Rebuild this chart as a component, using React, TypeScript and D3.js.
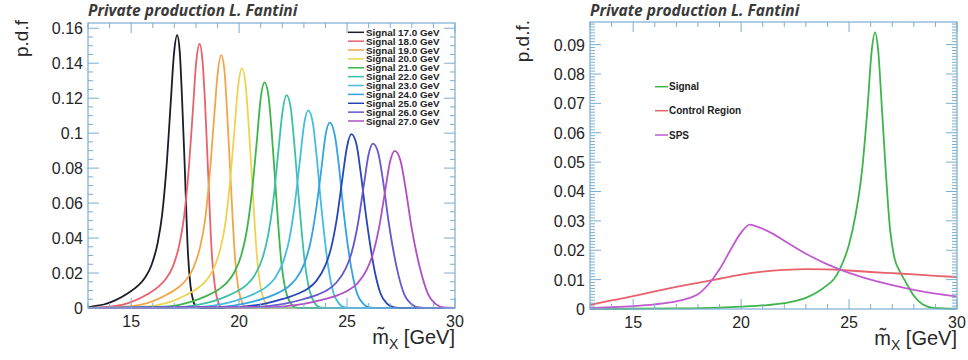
import React from 'react';
import * as d3 from 'd3';

type Pt = [number, number];

// ---------- Left panel data: signal templates (m, pdf) ----------
const signalMasses = [17, 18, 19, 20, 21, 22, 23, 24, 25, 26, 27];
const signalColors = ['#1c1c28', '#e8616b', '#f0a64a', '#ecd352', '#3db54b', '#3cc0a8', '#44bde0', '#33a3e2', '#2646b8', '#6457cf', '#b04fc4'];

const sig17: Pt[] = [[13,0.0003],[13.23,0.0009],[13.73,0.002],[14.23,0.0042],[14.83,0.0083],[15.33,0.0129],[15.63,0.0172],[15.93,0.0242],[16.23,0.0374],[16.43,0.053],[16.63,0.0796],[16.83,0.117],[16.98,0.1451],[17.13,0.156],[17.25,0.1466],[17.35,0.1217],[17.48,0.0811],[17.63,0.0312],[17.75,0.0125],[17.88,0.0039],[18.03,0.0005],[18.3,0],[30,0]];
const sig18: Pt[] = [[13,0],[14.09,0.0009],[14.62,0.002],[15.14,0.0041],[15.77,0.008],[16.29,0.0125],[16.6,0.0166],[16.92,0.0234],[17.23,0.0362],[17.44,0.0513],[17.65,0.077],[17.86,0.1133],[18.01,0.1404],[18.17,0.151],[18.3,0.1419],[18.42,0.1178],[18.56,0.0785],[18.74,0.0302],[18.88,0.0121],[19.02,0.0038],[19.19,0.0005],[19.5,0],[30,0]];
const sig19: Pt[] = [[13,0],[14.92,0.0009],[15.46,0.0019],[16.01,0.0039],[16.66,0.0077],[17.21,0.012],[17.53,0.0159],[17.86,0.0224],[18.19,0.0347],[18.41,0.0492],[18.62,0.0737],[18.84,0.1085],[19.01,0.1345],[19.17,0.1446],[19.32,0.1359],[19.44,0.1128],[19.6,0.0752],[19.81,0.0289],[19.96,0.0116],[20.13,0.0036],[20.32,0.0004],[20.6,0],[30,0]];
const sig20: Pt[] = [[13,0],[15.7,0.0008],[16.27,0.0018],[16.84,0.0037],[17.52,0.0073],[18.09,0.0114],[18.43,0.0151],[18.77,0.0212],[19.11,0.0329],[19.34,0.0466],[19.56,0.0699],[19.79,0.1028],[19.96,0.1274],[20.13,0.137],[20.29,0.1288],[20.43,0.1069],[20.61,0.0712],[20.84,0.0274],[21.01,0.011],[21.2,0.0034],[21.41,0.0004],[21.7,0],[30,0]];
const sig21: Pt[] = [[13,0],[16.58,0.0008],[17.17,0.0017],[17.76,0.0035],[18.47,0.0068],[19.06,0.0107],[19.41,0.0142],[19.76,0.02],[20.12,0.031],[20.35,0.0439],[20.59,0.0658],[20.83,0.0968],[21.0,0.12],[21.18,0.129],[21.36,0.1213],[21.51,0.1006],[21.7,0.0671],[21.96,0.0258],[22.15,0.0103],[22.36,0.0032],[22.59,0.0004],[22.9,0],[30,0]];
const sig22: Pt[] = [[13,0],[17.42,0.0007],[18.03,0.0016],[18.65,0.0033],[19.38,0.0065],[19.99,0.0101],[20.36,0.0134],[20.73,0.0189],[21.1,0.0292],[21.34,0.0414],[21.59,0.0621],[21.83,0.0913],[22.02,0.1132],[22.2,0.1217],[22.39,0.1144],[22.55,0.0949],[22.76,0.0633],[23.06,0.0243],[23.27,0.0097],[23.49,0.003],[23.75,0.0004],[24.1,0],[30,0]];
const sig23: Pt[] = [[13,0],[18.25,0.0007],[18.88,0.0015],[19.52,0.0031],[20.28,0.006],[20.91,0.0094],[21.29,0.0124],[21.68,0.0175],[22.06,0.0271],[22.31,0.0384],[22.56,0.0576],[22.82,0.0848],[23.01,0.1051],[23.2,0.113],[23.41,0.1062],[23.58,0.0881],[23.8,0.0588],[24.14,0.0226],[24.36,0.009],[24.61,0.0028],[24.89,0.0003],[25.2,0],[30,0]];
const sig24: Pt[] = [[13,0],[19.07,0.0006],[19.73,0.0014],[20.39,0.0029],[21.18,0.0056],[21.83,0.0088],[22.23,0.0117],[22.62,0.0164],[23.02,0.0254],[23.28,0.036],[23.54,0.0541],[23.81,0.0795],[24.0,0.0986],[24.2,0.106],[24.42,0.0996],[24.61,0.0827],[24.84,0.0551],[25.22,0.0212],[25.46,0.0085],[25.73,0.0027],[26.03,0.0003],[26.4,0],[30,0]];
const sig25: Pt[] = [[13,0],[19.9,0.0006],[20.58,0.0013],[21.26,0.0027],[22.07,0.0053],[22.75,0.0083],[23.16,0.0109],[23.57,0.0154],[23.98,0.0239],[24.25,0.0338],[24.52,0.0507],[24.79,0.0746],[25.0,0.0924],[25.2,0.0994],[25.44,0.0934],[25.63,0.0775],[25.89,0.0517],[26.3,0.0199],[26.56,0.008],[26.85,0.0025],[27.18,0.0003],[27.6,0],[30,0]];
const sig26: Pt[] = [[13,0],[20.72,0.0006],[21.42,0.0012],[22.13,0.0025],[22.97,0.005],[23.67,0.0078],[24.09,0.0103],[24.51,0.0146],[24.94,0.0226],[25.22,0.032],[25.5,0.0479],[25.78,0.0705],[25.99,0.0874],[26.2,0.094],[26.45,0.0884],[26.66,0.0733],[26.93,0.0489],[27.38,0.0188],[27.66,0.0075],[27.97,0.0024],[28.33,0.0003],[28.8,0],[30,0]];
const sig27: Pt[] = [[13,0],[21.55,0.0005],[22.28,0.0012],[23.0,0.0024],[23.87,0.0048],[24.6,0.0075],[25.03,0.0099],[25.47,0.0139],[25.9,0.0216],[26.19,0.0306],[26.48,0.0458],[26.77,0.0674],[26.99,0.0836],[27.21,0.0899],[27.47,0.0845],[27.69,0.0701],[27.98,0.0467],[28.48,0.018],[28.78,0.0072],[29.11,0.0022],[29.49,0.0003],[30,0]];
const signalCurves = [sig17, sig18, sig19, sig20, sig21, sig22, sig23, sig24, sig25, sig26, sig27];

// ---------- Right panel data ----------
const rightNames = ['Signal', 'Control Region', 'SPS'];
const rightColors = ['#3db54b', '#e8616b', '#c25ad0'];
const rightSignal: Pt[] = [[13,0],[17,0.0002],[19,0.0005],[20,0.0008],[21,0.0012],[22,0.002],[23,0.0038],[23.5,0.0056],[24,0.0082],[24.3,0.0102],[24.6,0.014],[25,0.022],[25.3,0.032],[25.6,0.047],[25.85,0.068],[26.05,0.088],[26.2,0.0942],[26.35,0.088],[26.5,0.071],[26.7,0.047],[26.9,0.027],[27.1,0.0175],[27.35,0.0128],[27.6,0.0095],[28.0,0.0045],[28.4,0.0016],[28.9,0.0004],[30,0.0001]];
const controlRegion: Pt[] = [[13,0.0014],[14,0.0029],[15,0.0044],[16,0.006],[17,0.0075],[18,0.0089],[19,0.0103],[20,0.0117],[21,0.0127],[22,0.0133],[23,0.0136],[24,0.0135],[25,0.0131],[26,0.0126],[27,0.0122],[28,0.0118],[29,0.0113],[30,0.0109]];
const sps: Pt[] = [[13,0.0003],[14,0.0006],[15,0.001],[16,0.0016],[17,0.0026],[17.5,0.0035],[18,0.005],[18.5,0.0085],[19,0.0135],[19.5,0.02],[20,0.026],[20.4,0.0287],[20.8,0.0279],[21.5,0.0255],[22,0.0232],[23,0.0188],[24,0.0152],[25,0.0123],[26,0.01],[27,0.0081],[28,0.0065],[29,0.0052],[30,0.0042]];
const rightCurves = [rightSignal, controlRegion, sps];

// ---------- Axes ----------
const xDomain: [number, number] = [13, 30];
const xTickLabels = [15, 20, 25, 30];
const leftYTicks = [0, 0.02, 0.04, 0.06, 0.08, 0.1, 0.12, 0.14, 0.16];
const rightYTicks = [0, 0.01, 0.02, 0.03, 0.04, 0.05, 0.06, 0.07, 0.08, 0.09];
const titleText = 'Private production L. Fantini';

const AXIS = '#7aaed2';
const TXT = '#262626';
const FONT = '"Liberation Sans", Arial, sans-serif';

interface PanelProps {
  x0: number; x1: number; y0: number; y1: number;
  yMax: number; yTicks: number[]; yMinorStep: number;
  yTitle: string; yTitleX: number; yTitleTop: number;
  curves: Pt[][]; colors: string[];
  children?: React.ReactNode;
  gapTitle: boolean;
}

function Panel(p: PanelProps) {
  const x = d3.scaleLinear().domain(xDomain).range([p.x0, p.x1]);
  const y = d3.scaleLinear().domain([0, p.yMax]).range([p.y1, p.y0]);
  const line = d3.line<Pt>().x(d => x(d[0])).y(d => y(d[1])).curve(d3.curveMonotoneX);
  const xMinor = d3.range(13, 30.0001, 1);
  const yMinor = d3.range(0, p.yMax + 1e-9, p.yMinorStep);
  const fmt = (v: number) => String(+v.toFixed(3));
  return (
    <g>
      <text x={p.x0} y={16} fontFamily='"Open Sans", sans-serif' fontStyle="italic" fontWeight={700} fontSize={15.5} fill="#3a3a3a">{titleText}</text>
      <g>
        {p.curves.map((c, i) => (
          <path key={i} d={line(c) || ''} fill="none" stroke={p.colors[i]} strokeWidth={1.8} strokeLinejoin="round" />
        ))}
      </g>
      <rect x={p.x0} y={p.y0} width={p.x1 - p.x0} height={p.y1 - p.y0} fill="none" stroke={AXIS} strokeWidth={1.2} />
      {xMinor.map((v, i) => {
        const major = Math.abs(v % 5) < 1e-6;
        const len = major ? 10 : 5;
        return (
          <g key={'x' + i}>
            <line x1={x(v)} x2={x(v)} y1={p.y1} y2={p.y1 - len} stroke={AXIS} strokeWidth={1} />
            <line x1={x(v)} x2={x(v)} y1={p.y0} y2={p.y0 + len} stroke={AXIS} strokeWidth={1} />
          </g>
        );
      })}
      {yMinor.map((v, i) => {
        const major = p.yTicks.some(t => Math.abs(t - v) < 1e-7);
        const len = major ? 11 : 5;
        return (
          <g key={'y' + i}>
            <line x1={p.x0} x2={p.x0 + len} y1={y(v)} y2={y(v)} stroke={AXIS} strokeWidth={1} />
            <line x1={p.x1} x2={p.x1 - len} y1={y(v)} y2={y(v)} stroke={AXIS} strokeWidth={1} />
          </g>
        );
      })}
      {xTickLabels.map(v => (
        <text key={'xl' + v} x={x(v)} y={p.y1 + 19} textAnchor="middle" fontFamily={FONT} fontSize={16} fill={TXT}>{v}</text>
      ))}
      {p.yTicks.map(v => (
        <text key={'yl' + v} x={p.x0 - 5} y={y(v) + 6} textAnchor="end" fontFamily={FONT} fontSize={16} fill={TXT}>{fmt(v)}</text>
      ))}
      <text transform={`translate(${p.yTitleX},${p.yTitleTop}) rotate(-90)`} textAnchor="end" fontFamily={FONT} fontSize={19} fill={TXT}>{p.yTitle}</text>
      <text x={p.x1} y={p.y1 + 36} textAnchor="end" fontFamily={FONT} fontSize={20} fill={TXT}>
        {'m\u0303'}<tspan fontSize={14} dy={5}>X</tspan><tspan dy={-5}>{p.gapTitle ? '  [GeV]' : ' [GeV]'}</tspan>
      </text>
      {p.children}
    </g>
  );
}

export default function App() {
  const legY = d3.scaleLinear().domain([0, 10]).range([32.3, 121]);
  return (
    <svg width={968} height={360} style={{ position: 'absolute', left: 0, top: 0, background: '#fff' }}>
      <rect width={968} height={360} fill="#fff" />
      <Panel x0={88} x1={455} y0={23} y1={308} yMax={0.163} yTicks={leftYTicks} yMinorStep={0.005}
        yTitle="p.d.f" yTitleX={28} yTitleTop={20} curves={signalCurves} colors={signalColors} gapTitle={false}>
        {signalMasses.map((m, i) => (
          <g key={m}>
            <line x1={348} x2={364} y1={legY(i)} y2={legY(i)} stroke={signalColors[i]} strokeWidth={1.5} />
            <text x={366} y={legY(i) + 3.5} fontFamily={FONT} fontWeight={700} fontSize={9.8} fill="#222">{`Signal ${m.toFixed(1)} GeV`}</text>
          </g>
        ))}
      </Panel>
      <Panel x0={590} x1={957} y0={22} y1={309} yMax={0.0977} yTicks={rightYTicks} yMinorStep={0.001}
        yTitle="p.d.f." yTitleX={529} yTitleTop={20} curves={rightCurves} colors={rightColors} gapTitle={true}>
        {rightNames.map((n, i) => {
          const yy = [86.7, 110.7, 135][i];
          return (
            <g key={n}>
              <line x1={655} x2={668} y1={yy} y2={yy} stroke={rightColors[i]} strokeWidth={1.5} />
              <text x={669} y={yy + 3.6} fontFamily={FONT} fontWeight={700} fontSize={10} fill="#222">{n}</text>
            </g>
          );
        })}
      </Panel>
    </svg>
  );
}
